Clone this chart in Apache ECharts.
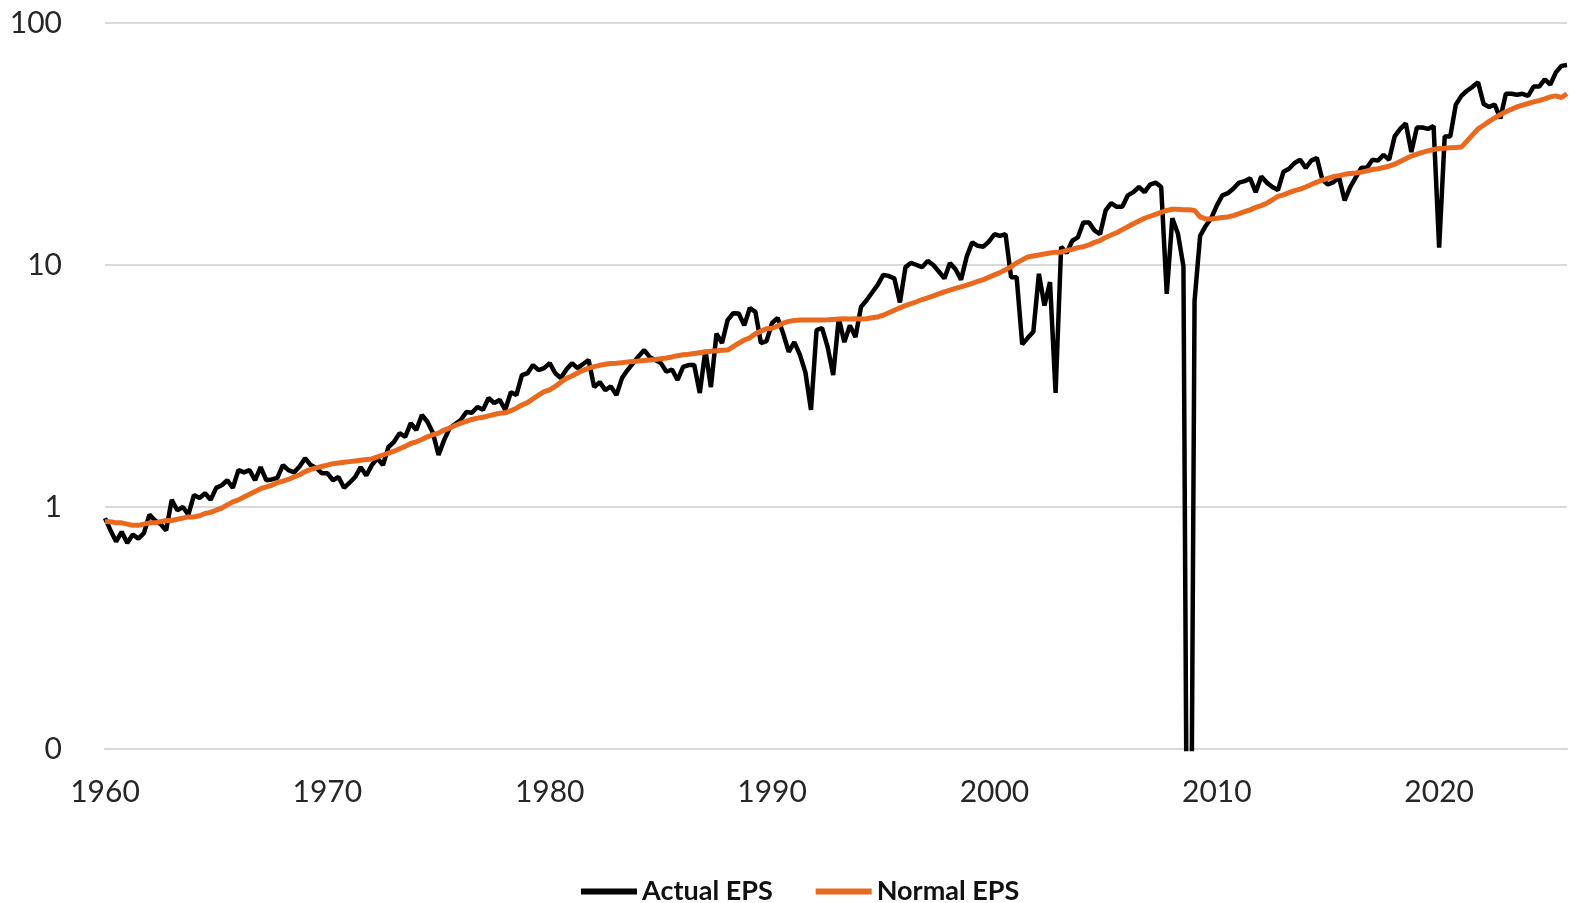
<!DOCTYPE html>
<html lang="en">
<head>
    <meta charset="UTF-8"/>
    <title>Actual vs Normal EPS</title>
    <script src="https://cdn.jsdelivr.net/npm/echarts@6/dist/echarts.min.js"></script>
    <style>
        html, body { margin: 0; padding: 0; background: #fff; }
        #main { width: 1570px; height: 903px; }
    </style>
</head>
<body>
<div id="main"></div>
<script>
    // quarterly series, 1960 Q1 .. 2025 Q4 (log scale values)
    var firstYear = 1960;
    var lastYear = 2025;
    var yearLabels = ['1960', '1970', '1980', '1990', '2000', '2010', '2020'];
    var seriesNames = ['Actual EPS', 'Normal EPS'];

    var actualEps = [
        0.90, 0.80, 0.72, 0.79,   // 1960
        0.71, 0.77, 0.74, 0.78,
        0.93, 0.88, 0.85, 0.80,
        1.07, 0.97, 1.00, 0.93,
        1.12, 1.09, 1.14, 1.07,
        1.20, 1.23, 1.29, 1.20,   // 1965
        1.42, 1.39, 1.42, 1.29,
        1.46, 1.29, 1.30, 1.32,
        1.49, 1.42, 1.39, 1.47,
        1.59, 1.49, 1.45, 1.38,
        1.38, 1.29, 1.33, 1.20,   // 1970
        1.26, 1.33, 1.46, 1.35,
        1.49, 1.59, 1.49, 1.77,
        1.86, 2.02, 1.95, 2.22,
        2.08, 2.40, 2.25, 2.02,
        1.64, 1.89, 2.12, 2.20,   // 1975
        2.29, 2.47, 2.45, 2.59,
        2.52, 2.82, 2.69, 2.77,
        2.52, 2.98, 2.90, 3.51,
        3.57, 3.86, 3.68, 3.75,
        3.93, 3.57, 3.41, 3.70,   // 1980
        3.93, 3.75, 3.90, 4.05,
        3.13, 3.28, 3.04, 3.15,
        2.90, 3.41, 3.68, 3.93,
        4.20, 4.45, 4.16, 4.05,
        3.93, 3.62, 3.70, 3.35,   // 1985
        3.79, 3.86, 3.86, 2.96,
        4.45, 3.13, 5.21, 4.76,
        5.92, 6.32, 6.30, 5.63,
        6.64, 6.40, 4.76, 4.85,
        5.76, 6.04, 5.21, 4.38,   // 1990
        4.80, 4.26, 3.60, 2.52,
        5.38, 5.49, 4.58, 3.51,
        6.04, 4.80, 5.63, 5.04,
        6.71, 7.15, 7.70, 8.27,
        9.10, 9.00, 8.80, 7.00,   // 1995
        9.80, 10.2, 10.0, 9.80,
        10.4, 10.0, 9.40, 8.80,
        10.2, 9.60, 8.70, 10.8,
        12.4, 12.0, 11.9, 12.5,
        13.4, 13.2, 13.4, 8.90,   // 2000
        8.90, 4.70, 5.00, 5.30,
        9.20, 6.80, 8.50, 2.96,
        11.9, 11.2, 12.6, 13.0,
        15.0, 15.0, 13.9, 13.4,
        16.8, 18.0, 17.4, 17.4,   // 2005
        19.4, 20.0, 21.0, 20.0,
        21.5, 21.9, 21.0, 7.60,
        15.6, 13.5, 9.90, 0.001,
        7.10, 13.2, 14.5, 15.6,
        17.6, 19.4, 19.8, 20.7,   // 2010
        21.9, 22.2, 22.8, 20.0,
        23.2, 21.9, 21.0, 20.4,
        24.3, 25.0, 26.4, 27.2,
        25.2, 27.0, 27.7, 22.5,
        21.5, 22.0, 23.0, 18.5,   // 2015
        21.0, 23.0, 25.2, 25.2,
        27.2, 27.0, 28.5, 27.2,
        34.0, 36.5, 38.5, 29.3,
        37.0, 37.0, 36.5, 37.5,
        11.8, 34.0, 34.0, 46.0,   // 2020
        50.0, 52.5, 54.5, 56.9,
        46.3, 45.0, 46.0, 40.3,
        51.0, 51.0, 50.5, 51.0,
        50.0, 54.6, 54.6, 58.5,
        55.7, 62.5, 66.5, 67.0    // 2025
    ];

    var normalEps = [
        0.87, 0.87, 0.86, 0.86,   // 1960
        0.85, 0.84, 0.84, 0.85,
        0.86, 0.86, 0.87, 0.88,
        0.88, 0.89, 0.90, 0.91,
        0.91, 0.92, 0.94, 0.95,
        0.97, 0.99, 1.02, 1.05,   // 1965
        1.07, 1.10, 1.13, 1.16,
        1.19, 1.21, 1.23, 1.26,
        1.28, 1.30, 1.33, 1.36,
        1.40, 1.43, 1.45, 1.47,
        1.49, 1.51, 1.52, 1.53,   // 1970
        1.54, 1.55, 1.56, 1.57,
        1.58, 1.61, 1.64, 1.67,
        1.70, 1.74, 1.78, 1.83,
        1.86, 1.90, 1.95, 1.99,
        2.02, 2.08, 2.12, 2.17,   // 1975
        2.22, 2.26, 2.30, 2.33,
        2.35, 2.38, 2.41, 2.44,
        2.45, 2.50, 2.56, 2.64,
        2.70, 2.80, 2.90, 3.00,
        3.05, 3.15, 3.28, 3.40,   // 1980
        3.48, 3.58, 3.67, 3.75,
        3.80, 3.85, 3.89, 3.92,
        3.93, 3.95, 3.97, 3.99,
        4.01, 4.03, 4.05, 4.07,
        4.10, 4.13, 4.17, 4.22,   // 1985
        4.26, 4.28, 4.31, 4.34,
        4.37, 4.40, 4.42, 4.44,
        4.45, 4.60, 4.75, 4.90,
        5.00, 5.20, 5.33, 5.45,
        5.48, 5.60, 5.75, 5.85,   // 1990
        5.90, 5.92, 5.92, 5.92,
        5.93, 5.93, 5.94, 5.96,
        5.98, 6.00, 5.98, 6.00,
        5.98, 6.00, 6.05, 6.10,
        6.20, 6.35, 6.50, 6.65,   // 1995
        6.80, 6.92, 7.05, 7.20,
        7.32, 7.45, 7.60, 7.75,
        7.88, 8.00, 8.12, 8.25,
        8.40, 8.55, 8.70, 8.90,
        9.10, 9.30, 9.55, 9.85,   // 2000
        10.2, 10.5, 10.8, 10.9,
        11.0, 11.1, 11.2, 11.3,
        11.3, 11.5, 11.6, 11.8,
        11.9, 12.1, 12.4, 12.6,
        13.0, 13.3, 13.6, 14.0,   // 2005
        14.4, 14.8, 15.2, 15.6,
        15.9, 16.2, 16.5, 16.8,
        17.0, 17.0, 16.9, 16.9,
        16.8, 15.8, 15.5, 15.5,
        15.6, 15.7, 15.8, 16.0,   // 2010
        16.3, 16.6, 16.9, 17.3,
        17.6, 18.0, 18.6, 19.2,
        19.5, 19.9, 20.3, 20.6,
        21.0, 21.5, 22.0, 22.4,
        22.8, 23.2, 23.4, 23.7,   // 2015
        23.9, 24.0, 24.2, 24.5,
        24.8, 25.0, 25.3, 25.6,
        26.1, 26.8, 27.5, 28.2,
        28.7, 29.2, 29.6, 30.0,
        30.3, 30.4, 30.5, 30.6,   // 2020
        30.7, 32.5, 34.5, 36.5,
        37.8, 39.2, 40.5, 41.8,
        43.0, 44.0, 45.0, 45.8,
        46.5, 47.2, 47.8, 48.6,
        49.5, 50.0, 49.2, 51.0    // 2025
    ];

    var quarters = [];
    for (var y = firstYear; y <= lastYear; y++) {
        for (var q = 1; q <= 4; q++) {
            quarters.push(y + 'Q' + q);
        }
    }

    var fontName = 'Lato';
    var myChart = echarts.init(document.getElementById('main'));
    var option = {
        animation: false,
        backgroundColor: '#ffffff',
        grid: { left: 105, right: 3, top: 23, bottom: 154 },
        legend: {
            top: 873,
            left: 576,
            icon: 'rect',
            itemWidth: 56,
            itemHeight: 6,
            itemGap: 43,
            textStyle: { fontFamily: fontName, fontSize: 27, fontWeight: 'bold', color: '#111' },
            data: seriesNames
        },
        xAxis: {
            type: 'category',
            boundaryGap: false,
            data: quarters,
            axisLine: { show: true, lineStyle: { color: '#d9d9d9', width: 2 } },
            axisTick: { show: false },
            splitLine: { show: false },
            axisLabel: {
                interval: function (idx, val) {
                    return yearLabels.indexOf(val.slice(0, 4)) >= 0 && val.slice(4) === 'Q1';
                },
                formatter: function (val) { return val.slice(0, 4); },
                margin: 28,
                fontFamily: fontName,
                fontSize: 30,
                color: '#262626'
            }
        },
        yAxis: {
            type: 'log',
            logBase: 10,
            min: 0.1,
            max: 100,
            axisLine: { show: false },
            axisTick: { show: false },
            splitLine: { lineStyle: { color: '#d9d9d9', width: 2 } },
            axisLabel: {
                formatter: function (v) { return v < 1 ? '0' : String(Math.round(v)); },
                margin: 43,
                fontFamily: fontName,
                fontSize: 30,
                color: '#262626'
            }
        },
        series: [
            {
                name: seriesNames[0],
                type: 'line',
                data: actualEps,
                symbol: 'none',
                clip: true,
                itemStyle: { color: '#000000' },
                lineStyle: { color: '#000000', width: 4.5 }
            },
            {
                name: seriesNames[1],
                type: 'line',
                data: normalEps,
                symbol: 'none',
                clip: true,
                itemStyle: { color: '#E9691E' },
                lineStyle: { color: '#E9691E', width: 5 }
            }
        ]
    };
    myChart.setOption(option);
</script>
</body>
</html>
